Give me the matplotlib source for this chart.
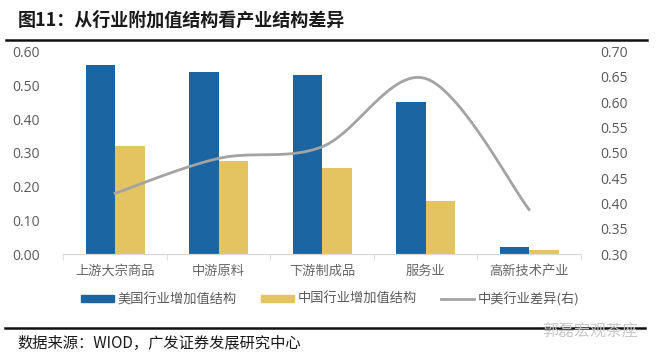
import numpy as np
import matplotlib
matplotlib.use("Agg")
import matplotlib.pyplot as plt
from matplotlib.lines import Line2D

plt.rcParams['font.family'] = ['Noto Sans CJK SC', 'DejaVu Sans']

# data
categories = ["上游大宗商品", "中游原料", "下游制成品", "服务业", "高新技术产业"]
us_share = [0.56, 0.54, 0.53, 0.45, 0.022]
cn_share = [0.32, 0.275, 0.255, 0.156, 0.012]
gap_right = [0.42, 0.489, 0.512, 0.647, 0.388]
left_ticks = [0.0, 0.1, 0.2, 0.3, 0.4, 0.5, 0.6]
right_ticks = [0.30, 0.35, 0.40, 0.45, 0.50, 0.55, 0.60, 0.65, 0.70]

blue = "#1B65A3"
yellow = "#E3C461"
grey = "#A3A3A3"
txt = "#595959"

W, H = 660, 363
fig = plt.figure(figsize=(W / 100, H / 100), dpi=100)

# axes box in pixels
x0, x1 = 63.3, 580.8
ytop, ybot = 51.7, 254
ax = fig.add_axes([x0 / W, 1 - ybot / H, (x1 - x0) / W, (ybot - ytop) / H])
ax2 = ax.twinx()

x = np.arange(len(categories))
bw = 0.285
ax.bar(x - bw / 2, us_share, width=bw, color=blue, zorder=2)
ax.bar(x + bw / 2, cn_share, width=bw, color=yellow, zorder=2)

ax.set_xlim(-0.5, len(categories) - 0.5)
ax.set_ylim(0, 0.6)
ax2.set_ylim(0.3, 0.7)

# smoothed line (Excel-style bezier through the points, in pixel space)
pts = ax2.transData.transform(np.column_stack([x, gap_right]))
P = np.vstack([pts[0], pts, pts[-1]])
curve = []
t = np.linspace(0, 1, 30)[:, None]
for i in range(1, len(P) - 2):
    p0, p1, p2, p3 = P[i - 1], P[i], P[i + 1], P[i + 2]
    c1 = p1 + (p2 - p0) / 6
    c2 = p2 - (p3 - p1) / 6
    seg = ((1 - t) ** 3) * p1 + 3 * ((1 - t) ** 2) * t * c1 + 3 * (1 - t) * t ** 2 * c2 + t ** 3 * p2
    curve.append(seg)
curve = ax2.transData.inverted().transform(np.vstack(curve))
ax2.plot(curve[:, 0], curve[:, 1], color=grey, lw=2, zorder=3)

for a in (ax, ax2):
    for s in ("top", "left", "right"):
        a.spines[s].set_visible(False)
    a.spines["bottom"].set_color("#D9D9D9")

ax.set_yticks(left_ticks)
ax.set_yticklabels([f"{v:.2f}" for v in left_ticks], fontsize=10, color=txt, family="Open Sans")
ax2.set_yticks(right_ticks)
ax2.set_yticklabels([f"{v:.2f}" for v in right_ticks], fontsize=10, color=txt, family="Open Sans")
ax.tick_params(axis="y", length=0, pad=17)
ax2.tick_params(axis="y", length=0, pad=14)

ax.set_xticks(x)
ax.set_xticklabels(categories, fontsize=9.5, color="#666666")
ax.tick_params(axis="x", length=0, pad=8)
ax.set_xticks(np.arange(-0.5, len(categories)), minor=True)
ax.tick_params(axis="x", which="minor", length=4, color="#D9D9D9")

handles = [plt.Rectangle((0, 0), 1, 1, color=blue), plt.Rectangle((0, 0), 1, 1, color=yellow),
           Line2D([0], [0], color=grey, lw=2)]
labels = ["美国行业增加值结构", "中国行业增加值结构", "中美行业差异(右)"]
fig.legend(handles, labels, loc="center", bbox_to_anchor=(0.5, 1 - 299 / H), ncol=3, frameon=False,
           fontsize=9.5, handlelength=2.5, handleheight=0.5, handletextpad=0.3, columnspacing=1.8,
           labelcolor=txt)

# title and rules
fig.text(18 / W, 1 - 20 / H, "图11：从行业附加值结构看产业结构差异", fontsize=13, fontweight="bold",
         color="#1A1A1A", va="center", ha="left")
fig.add_artist(Line2D([6 / W, 647 / W], [1 - 40 / H, 1 - 40 / H], color="#111111", lw=1.8))
fig.add_artist(Line2D([5 / W, 645 / W], [1 - 328 / H, 1 - 328 / H], color="#111111", lw=1.8))
fig.text(17 / W, 1 - 343 / H, "数据来源：WIOD，广发证券发展研究中心", fontsize=11, color="#1A1A1A",
         va="center", ha="left")
fig.text(638 / W, 1 - 332 / H, "郭磊宏观茶座", fontsize=11.5, color="#C8C8C8", va="center", ha="right")

fig.savefig("out.png", dpi=100)
